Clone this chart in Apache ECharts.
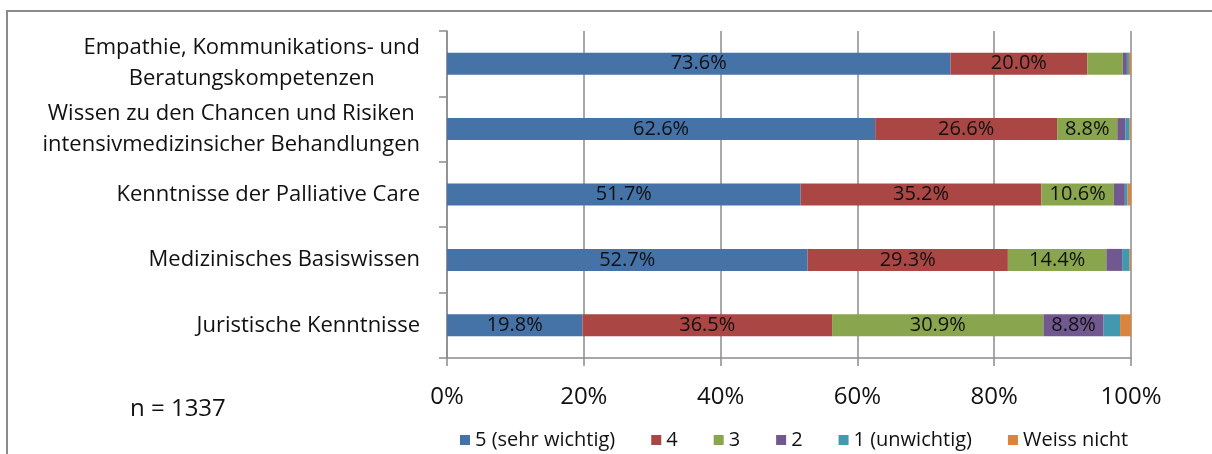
<!DOCTYPE html>
<html><head><meta charset="utf-8">
<script src="https://cdn.jsdelivr.net/npm/echarts@6/dist/echarts.min.js"></script>
<style>html,body{margin:0;padding:0;background:#fff}#c{width:1212px;height:454px}</style>
</head><body><div id="c"></div>
<script>
var categories = [
  "Empathie, Kommunikations- und\nBeratungskompetenzen",
  "Wissen zu den Chancen und Risiken\nintensivmedizinsicher Behandlungen",
  "Kenntnisse der Palliative Care",
  "Medizinisches Basiswissen",
  "Juristische Kenntnisse"
];
var seriesNames = ["5 (sehr wichtig)", "4", "3", "2", "1 (unwichtig)", "Weiss nicht"];
var s5 = [73.6, 62.6, 51.7, 52.7, 19.8];
var s4 = [20.0, 26.6, 35.2, 29.3, 36.5];
var s3 = [5.2, 8.8, 10.6, 14.4, 30.9];
var s2 = [0.6, 1.2, 1.6, 2.3, 8.8];
var s1 = [0.3, 0.6, 0.4, 1.1, 2.4];
var sWN = [0.3, 0.2, 0.5, 0.2, 1.6];
var xTicks = ["0%", "20%", "40%", "60%", "80%", "100%"];
var nText = "n = 1337";
var colors = ["#4572A7", "#AA4643", "#89A54E", "#71588F", "#4198AF", "#DB843D"];
var allData = [s5, s4, s3, s2, s1, sWN];

var FONT = "'Open Sans', 'Noto Sans', sans-serif";
var chart = echarts.init(document.getElementById('c'), null, {renderer: 'canvas'});
var series = allData.map(function (d, i) {
  return {
    name: seriesNames[i], type: 'bar', stack: 'all', data: d, barWidth: 22,
    itemStyle: {color: colors[i]},
    label: {
      show: true, position: 'inside', color: '#111', fontSize: 20, fontFamily: FONT,
      formatter: function (p) { return p.value >= 8 ? p.value.toFixed(1) + '%' : ''; }
    },
    emphasis: {disabled: true}
  };
});
chart.setOption({
  animation: false,
  color: colors,
  grid: {left: 447, right: 81, top: 31, bottom: 96, containLabel: false},
  xAxis: {
    type: 'value', min: 0, max: 100, interval: 20,
    axisLine: {show: true, lineStyle: {color: '#8c8c8c', width: 1.5}},
    axisTick: {show: true, length: 8, lineStyle: {color: '#8c8c8c', width: 1.5}},
    splitLine: {show: true, lineStyle: {color: '#8c8c8c', width: 1.5}},
    axisLabel: {
      margin: 27, fontSize: 24, color: '#111', fontFamily: FONT,
      formatter: function (v) { return xTicks[Math.round(v / 20)]; }
    }
  },
  yAxis: {
    type: 'category', data: categories, inverse: true,
    axisLine: {show: true, lineStyle: {color: '#8c8c8c', width: 1.5}},
    axisTick: {show: true, length: 8, lineStyle: {color: '#8c8c8c', width: 1.5}},
    axisLabel: {
      margin: 27, fontSize: 22, color: '#111', fontFamily: FONT, lineHeight: 31,
      formatter: function (v) {
        return v.split('\n').map(function (l) { return '{c|' + l + '}'; }).join('\n');
      },
      rich: {c: {align: 'center', fontSize: 22, lineHeight: 31, color: '#111', fontFamily: FONT}}
    }
  },
  legend: {
    data: seriesNames, top: 425, left: 455, itemWidth: 10, itemHeight: 10, itemGap: 36,
    icon: 'rect',
    textStyle: {fontSize: 20, color: '#111', fontFamily: FONT}
  },
  graphic: [
    {type: 'rect', shape: {x: 7, y: 11, width: 1220, height: 460},
      style: {fill: 'none', stroke: '#8a8a8a', lineWidth: 2}, silent: true},
    {type: 'text', left: 130, top: 397, style: {text: nText, fontSize: 24, fill: '#111', fontFamily: FONT}}
  ],
  series: series
});
</script></body></html>
